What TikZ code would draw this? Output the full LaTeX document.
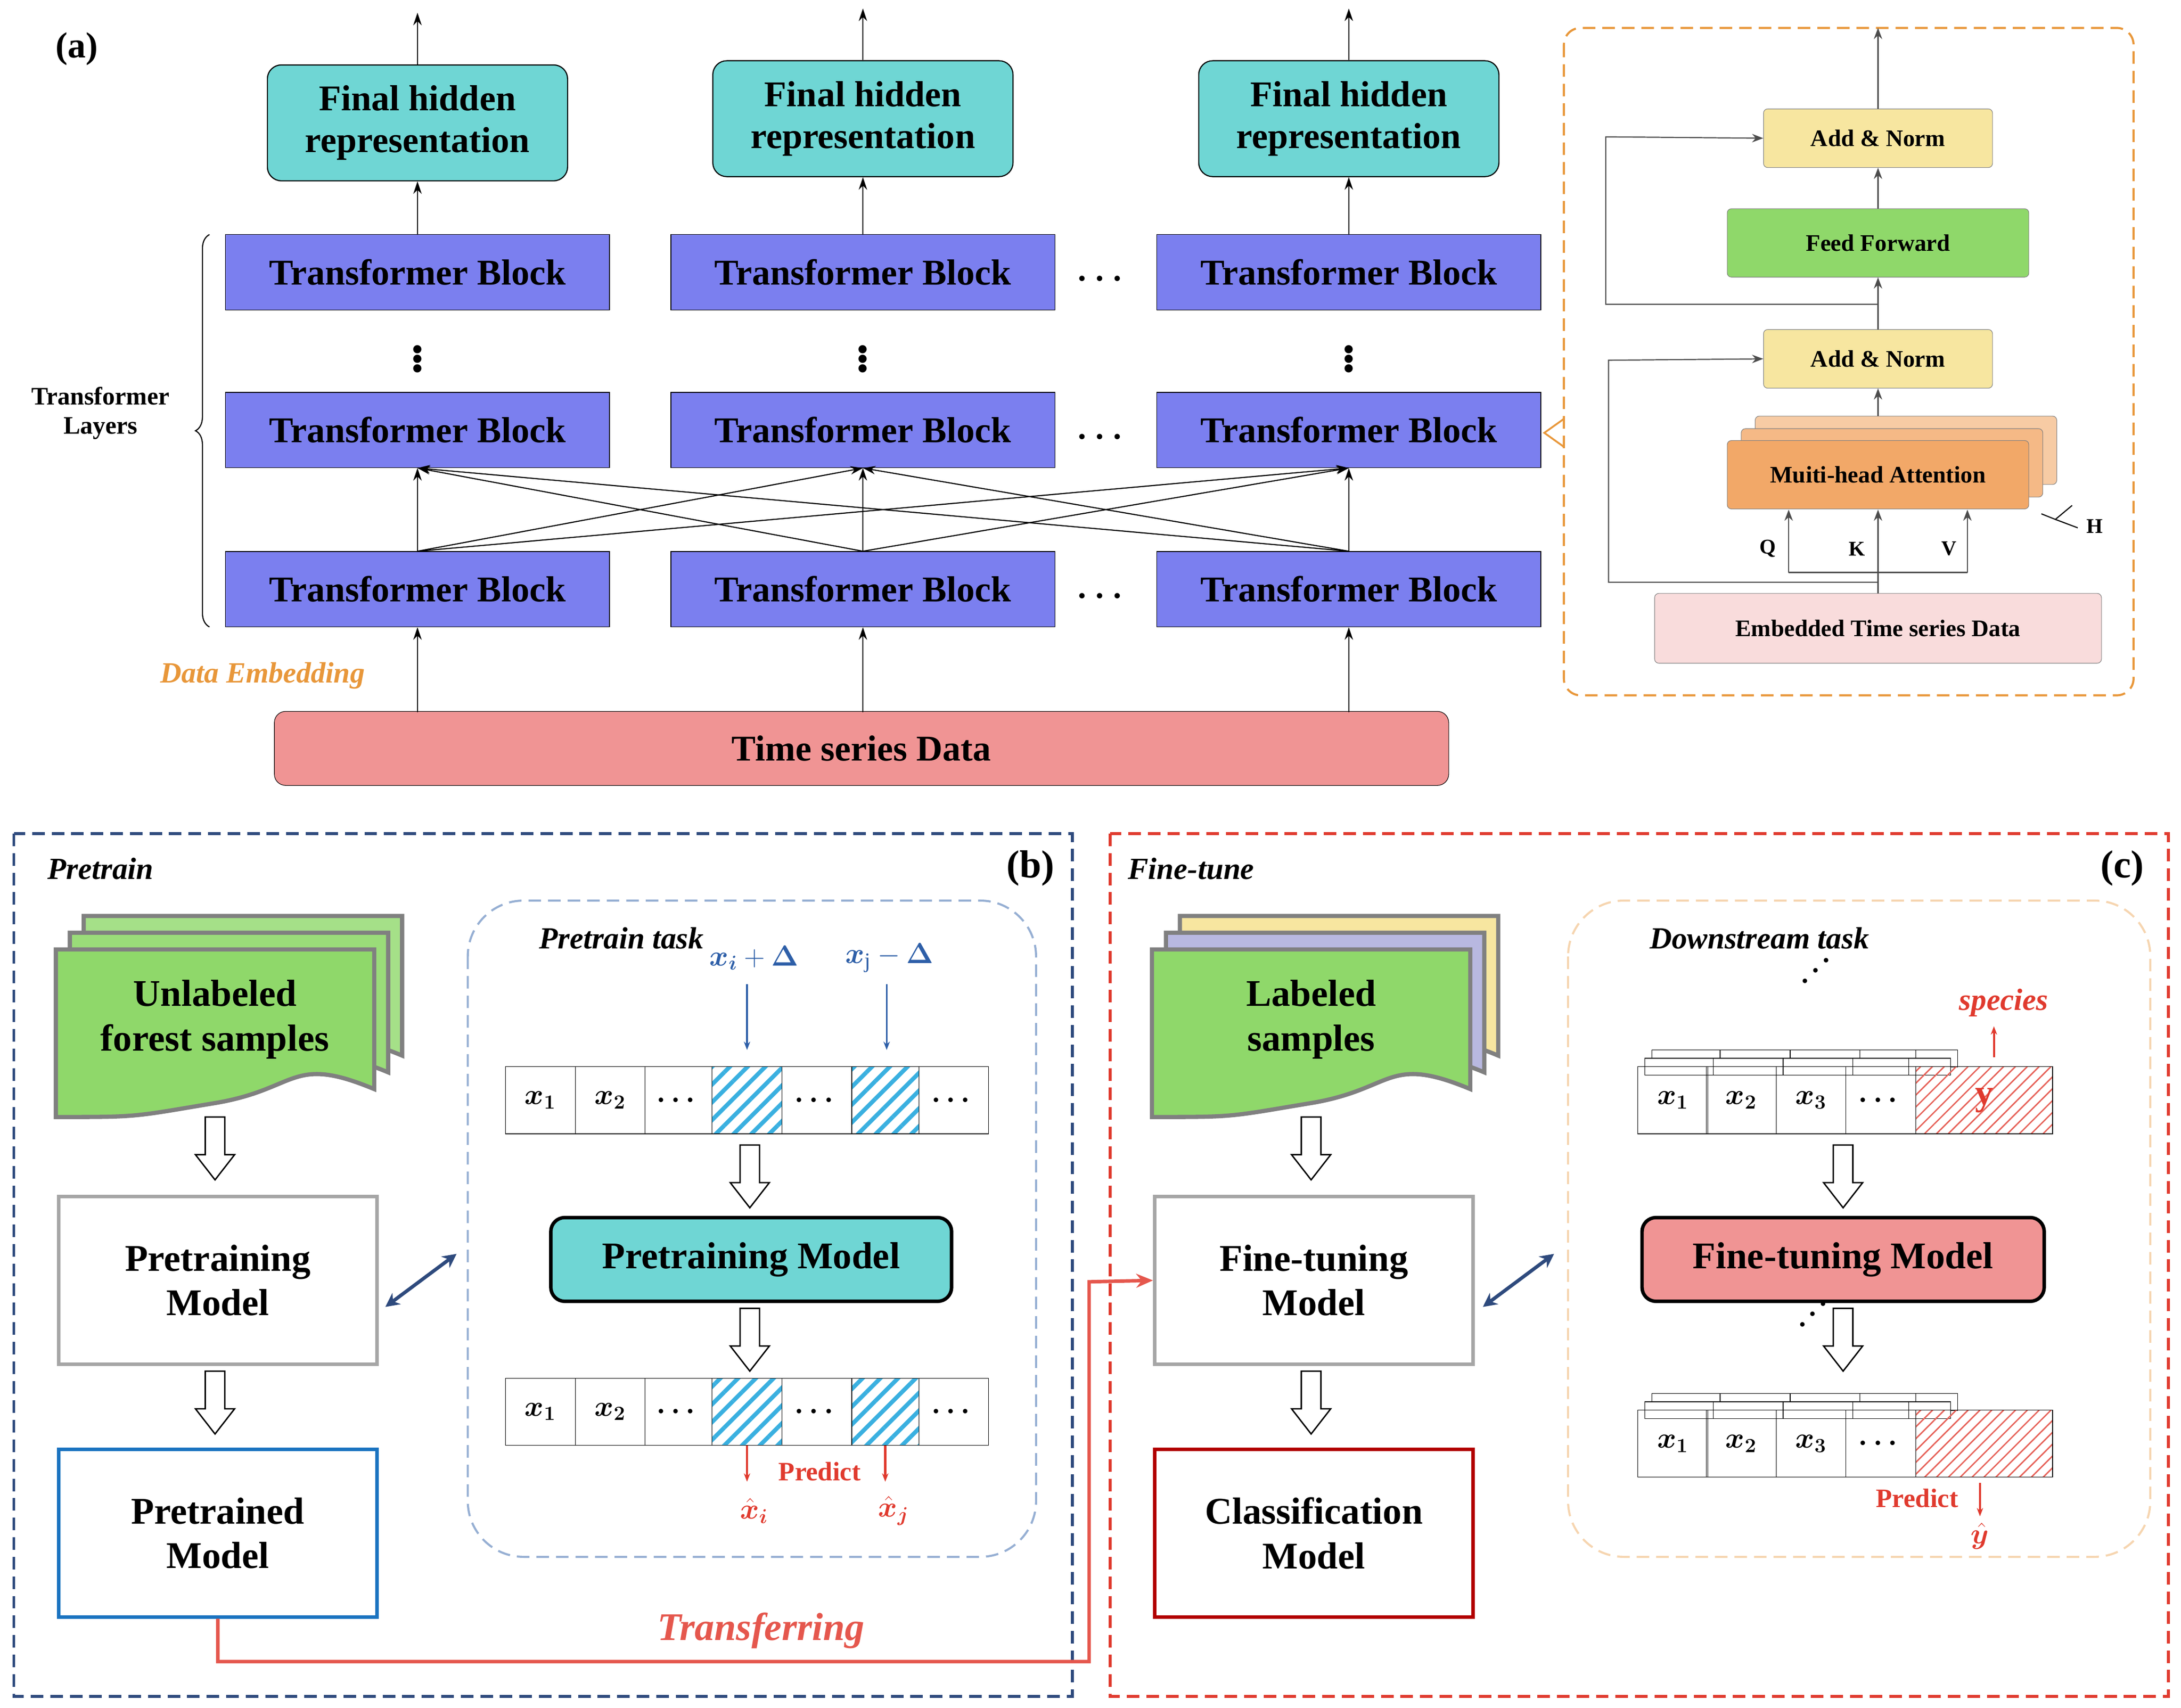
\documentclass[tikz,border=0pt]{standalone}
\usepackage{fontspec}
\usepackage{amsmath,bm}
\setmainfont{Liberation Serif}
\usetikzlibrary{arrows.meta,patterns.meta,decorations.pathreplacing,calc}
\definecolor{blk}{HTML}{7B7FEF}
\definecolor{teal}{HTML}{6FD6D4}
\definecolor{tsd}{HTML}{F09494}
\definecolor{an}{HTML}{F7E6A0}
\definecolor{ff}{HTML}{8FD86A}
\definecolor{mha}{HTML}{F2A868}
\definecolor{emb}{HTML}{F9DCDC}
\definecolor{navy}{HTML}{2E4A7D}
\definecolor{redd}{HTML}{E03A2E}
\definecolor{orng}{HTML}{E8973A}
\definecolor{pblue}{HTML}{1A73C0}
\definecolor{hatch}{HTML}{3AB0E0}
\definecolor{txtblue}{HTML}{2E5FA8}
\begin{document}
\begin{tikzpicture}[x=1pt,y=-1pt,
 big/.style={font=\fontsize{26}{30}\selectfont\bfseries},
 tb/.style={draw=black,fill=blk,minimum width=275pt,minimum height=54pt,big},
 fh/.style={draw=black,thick,fill=teal,rounded corners=10pt,minimum width=215pt,minimum height=83pt,align=center,big,inner sep=2pt},
 sm/.style={draw=gray,fill=an,rounded corners=3pt,font=\fontsize{17}{20}\selectfont\bfseries},
 arr/.style={-{Stealth[length=9pt,width=6pt]},line width=0.8pt},
 garr/.style={-{Stealth[length=8pt,width=6pt]},line width=0.8pt,draw=black!70},
 cell/.style={draw=black,minimum width=50pt,minimum height=48pt,inner sep=0pt,font=\fontsize{22}{24}\selectfont},
 bbox/.style={draw=gray!70,line width=2.5pt,fill=white,minimum width=228pt,minimum height=120pt,align=center,font=\fontsize{27}{32}\selectfont\bfseries},
 hol/.pic={\draw[fill=white,line width=1pt] (-7,0)--(7,0)--(7,27)--(14,27)--(0,45)--(-14,27)--(-7,27)--cycle;},
 hb/.style={pattern={Lines[angle=45,distance=9pt,line width=3pt]},pattern color=hatch},
 hr/.style={pattern={Lines[angle=45,distance=6pt,line width=1pt]},pattern color=redd!80},
 dots/.style={font=\fontsize{36}{36}\selectfont\bfseries,inner sep=0pt},
 dd/.style={dash pattern=on 9pt off 5pt}]
\useasboundingbox (0,0) rectangle (1562,1223);
\node[font=\fontsize{26}{30}\selectfont\bfseries] (la) at (55,35) {(a)};
\foreach \c/\x in {1/299,2/618,3/966}{
 \node[tb] (t\c) at (\x,195) {Transformer Block};
 \node[tb] (m\c) at (\x,308) {Transformer Block};
 \node[tb] (b\c) at (\x,422) {Transformer Block};
 \node[dots] (vd\c) at (\x,254) {$\boldsymbol\vdots$};
}
\node[fh] (f1) at (299,88) {Final hidden\\representation};
\node[fh] (f2) at (618,85) {Final hidden\\representation};
\node[fh] (f3) at (966,85) {Final hidden\\representation};
\foreach \c in {1,2,3}{\draw[arr] (t\c.north) -- (f\c.south); \draw[arr] (f\c.north) -- ++(0,-37);}
\node[dots] (hd1) at (790,200) {$\boldsymbol\cdots$};
\node[dots] (hd2) at (790,313) {$\boldsymbol\cdots$};
\node[dots] (hd3) at (790,427) {$\boldsymbol\cdots$};
\foreach \a in {1,2,3}{\foreach \b in {1,2,3}{\draw[arr] (b\a.north) -- (m\b.south);}}
\draw[decorate,decoration={brace,amplitude=10pt},line width=0.8pt] (150,449) -- (150,168);
\node[font=\fontsize{18}{21}\selectfont\bfseries,align=center] (tl) at (72,296) {Transformer\\Layers};
\node[font=\fontsize{21}{24}\selectfont\bfseries\itshape,text=orng] (de) at (188,484) {Data Embedding};
\node[draw=black,fill=tsd,rounded corners=8pt,minimum width=841pt,minimum height=53pt,big] (ts) at (617,536) {Time series Data};
\foreach \c/\x in {1/299,2/618,3/966}{\draw[arr] (\x,510) -- (b\c.south);}
% right panel
\draw[orng,dd,line width=1.5pt,rounded corners=12pt] (1120,20) rectangle (1528,498);
\draw[orng,line width=1.3pt] (1120,300) -- (1106,310) -- (1120,320);
\node[sm,minimum width=164pt,minimum height=42pt] (an2) at (1345,99) {Add \& Norm};
\node[sm,fill=ff,minimum width=216pt,minimum height=49pt] (ffn) at (1345,174) {Feed Forward};
\node[sm,minimum width=164pt,minimum height=42pt] (an1) at (1345,257) {Add \& Norm};
\draw[gray,fill=mha!60,rounded corners=3pt] (1257,298) rectangle (1473,347);
\draw[gray,fill=mha!80,rounded corners=3pt] (1247,307) rectangle (1463,356);
\node[sm,fill=mha,minimum width=216pt,minimum height=49pt] (mh) at (1345,340) {Muiti-head Attention};
\node[sm,fill=emb,minimum width=320pt,minimum height=50pt] (em) at (1345,450) {Embedded Time series Data};
\draw[garr] (an2.north) -- (1345,20);
\draw[garr] (ffn.north) -- (an2.south);
\draw[garr] (an1.north) -- (ffn.south);
\draw[garr] (1345,298) -- (an1.south);
\draw[line width=0.8pt,draw=black!70] (em.north) -- (1345,410) (1281,410) -- (1409,410);
\foreach \x in {1281,1345,1409}{\draw[garr] (\x,410) -- (\x,365);}
\node[font=\fontsize{15}{18}\selectfont\bfseries] (q) at (1266,393) {Q};
\node[font=\fontsize{15}{18}\selectfont\bfseries] (k) at (1330,393) {K};
\node[font=\fontsize{15}{18}\selectfont\bfseries] (v) at (1396,393) {V};
\draw[garr] (1345,417) -- (1152,417) -- (1152,258) -- (an1.west);
\draw[garr] (1345,218) -- (1150,218) -- (1150,98) -- (an2.west);
\draw[line width=0.8pt] (1462,368) -- (1472,372) -- (1484,362) (1472,372) -- (1488,378);
\node[font=\fontsize{15}{18}\selectfont\bfseries] (hh) at (1500,377) {H};
% bottom frames
\draw[navy,dd,line width=2pt] (10,597) rectangle (768,1215);
\draw[redd,dd,line width=2pt] (795,597) rectangle (1553,1215);
\node[font=\fontsize{22}{26}\selectfont\bfseries\itshape] (pt) at (72,622) {Pretrain};
\node[font=\fontsize{28}{30}\selectfont\bfseries] (lb) at (738,622) {(b)};
\node[font=\fontsize{22}{26}\selectfont\bfseries\itshape] (ft) at (853,622) {Fine-tune};
\node[font=\fontsize{28}{30}\selectfont\bfseries] (lc) at (1520,622) {(c)};
\newcommand\docshape[3]{\draw[draw=gray,line width=3pt,fill=#3] (#1,#2) -- ++(228,0) -- ++(0,100) .. controls ++(-60,-25) and ++(60,-10) .. ++(-114,10) .. controls ++(-60,10) and ++(60,0) .. ++(-114,10) -- cycle;}
\docshape{60}{656}{ff!80}
\docshape{50}{668}{ff!90}
\docshape{40}{680}{ff}
\node[font=\fontsize{27}{32}\selectfont\bfseries,align=center] (ul) at (154,730) {Unlabeled\\forest samples};
\docshape{845}{656}{an}
\docshape{835}{668}{gray!60!blue!40}
\docshape{825}{680}{ff}
\node[font=\fontsize{27}{32}\selectfont\bfseries,align=center] (ls) at (939,730) {Labeled\\samples};
\pic at (154,800) {hol};
\node[bbox] (pm) at (156,917) {Pretraining\\Model};
\pic at (154,982) {hol};
\node[bbox,draw=pblue] (pd) at (156,1098) {Pretrained\\Model};
\pic at (939,800) {hol};
\node[bbox] (fm) at (941,917) {Fine-tuning\\Model};
\pic at (939,982) {hol};
\node[bbox,draw=red!70!black] (cm) at (941,1098) {Classification\\Model};
\draw[redd!85,line width=2.5pt,-{Stealth[length=12pt,width=10pt]}] (pd.south) -- (156,1190) -- (780,1190) -- (780,918) -- (fm.west);
\node[font=\fontsize{28}{32}\selectfont\bfseries\itshape,text=redd!85] (tr) at (545,1168) {Transferring};
\draw[navy,line width=2.5pt,{Stealth[length=10pt,width=10pt]}-{Stealth[length=10pt,width=10pt]}] (276,936) -- (327,898);
\draw[navy,line width=2.5pt,{Stealth[length=10pt,width=10pt]}-{Stealth[length=10pt,width=10pt]}] (1062,936) -- (1113,898);
% pretrain task
\draw[txtblue!50,dd,line width=1.5pt,rounded corners=40pt] (335,645) rectangle (742,1115);
\node[font=\fontsize{22}{26}\selectfont\bfseries\itshape] (ptt) at (445,672) {Pretrain task};
\foreach \rr/\yy in {u/788,l/1011}{
 \node[cell] (\rr1) at (387,\yy) {$\bm{x_1}$};
 \node[cell] (\rr2) at (437,\yy) {$\bm{x_2}$};
 \node[cell,minimum width=48pt] (\rr3) at (486,\yy) {$\bm\cdots$};
 \node[cell,hb] (\rr4) at (535,\yy) {};
 \node[cell] (\rr5) at (585,\yy) {$\bm\cdots$};
 \node[cell,hb,minimum width=48pt] (\rr6) at (634,\yy) {};
 \node[cell] (\rr7) at (683,\yy) {$\bm\cdots$};
}
\node[text=txtblue,font=\fontsize{22}{26}\selectfont] (xi) at (540,686) {$\bm{x_i}+\bm\Delta$};
\node[text=txtblue,font=\fontsize{22}{26}\selectfont] (xj) at (637,686) {$\bm{x}_{\mathrm{j}}-\bm\Delta$};
\draw[txtblue,-{Stealth[length=6pt]},line width=1.2pt] (535,705) -- (535,752);
\draw[txtblue,-{Stealth[length=6pt]},line width=1.2pt] (635,705) -- (635,752);
\pic at (537,820) {hol};
\node[draw=black,line width=2.5pt,fill=teal,rounded corners=10pt,minimum width=287pt,minimum height=60pt,font=\fontsize{27}{30}\selectfont\bfseries] (ptm) at (538,902) {Pretraining Model};
\pic at (537,937) {hol};
\draw[redd,-{Stealth[length=6pt]},line width=1.5pt] (l4.south) -- ++(0,26);
\draw[redd,-{Stealth[length=6pt]},line width=1.5pt] (l6.south) -- ++(0,26);
\node[text=redd,font=\fontsize{19}{22}\selectfont\bfseries] (pr1) at (587,1054) {Predict};
\node[text=redd,font=\fontsize{22}{26}\selectfont] (xhi) at (540,1082) {$\hat{\bm{x}}_{\bm i}$};
\node[text=redd,font=\fontsize{22}{26}\selectfont] (xhj) at (640,1082) {$\hat{\bm{x}}_{\bm j}$};
% downstream task
\draw[orng!40,dd,line width=1.5pt,rounded corners=40pt] (1123,645) rectangle (1540,1115);
\node[font=\fontsize{22}{26}\selectfont\bfseries\itshape] (dt) at (1260,672) {Downstream task};
\foreach \rr/\yy in {a/788,c/1034}{
 \foreach \o in {2,1}{\foreach \x in {1183,1232,1282,1332}{\draw[fill=white,line width=0.6pt] (\x-10+\o*5,\yy-24-\o*6) rectangle ++(50,12);}
   \draw[fill=white,line width=0.6pt] (1372-10+\o*5,\yy-24-\o*6) rectangle ++(30,12);}
 \node[cell] (\rr1) at (1198,\yy) {$\bm{x_1}$};
 \node[cell] (\rr2) at (1247,\yy) {$\bm{x_2}$};
 \node[cell] (\rr3) at (1297,\yy) {$\bm{x_3}$};
 \node[cell] (\rr4) at (1347,\yy) {$\bm\cdots$};
 \node[cell,hr,minimum width=98pt] (\rr5) at (1421,\yy) {};
}
\node[text=redd,font=\fontsize{26}{28}\selectfont\bfseries] (yy) at (a5) {y};
\node[rotate=45,font=\fontsize{22}{22}\selectfont] (dd1) at (1302,694) {$\bm\cdots$};
\node[rotate=45,font=\fontsize{22}{22}\selectfont] (dd2) at (1300,940) {$\bm\cdots$};
\draw[redd,-{Stealth[length=6pt]},line width=1.5pt] (1428,757) -- (1428,735);
\node[text=redd,font=\fontsize{22}{26}\selectfont\bfseries\itshape] (sp) at (1435,718) {species};
\pic at (1320,820) {hol};
\node[draw=black,line width=2.5pt,fill=tsd,rounded corners=10pt,minimum width=288pt,minimum height=60pt,font=\fontsize{27}{30}\selectfont\bfseries] (ftm) at (1320,902) {Fine-tuning Model};
\pic at (1320,937) {hol};
\node[text=redd,font=\fontsize{19}{22}\selectfont\bfseries] (pr2) at (1373,1073) {Predict};
\draw[redd,-{Stealth[length=6pt]},line width=1.5pt] (1418,1062) -- (1418,1086);
\node[text=redd,font=\fontsize{22}{26}\selectfont] (yh) at (1418,1100) {$\hat{\bm{y}}$};
\end{tikzpicture}
\end{document}
